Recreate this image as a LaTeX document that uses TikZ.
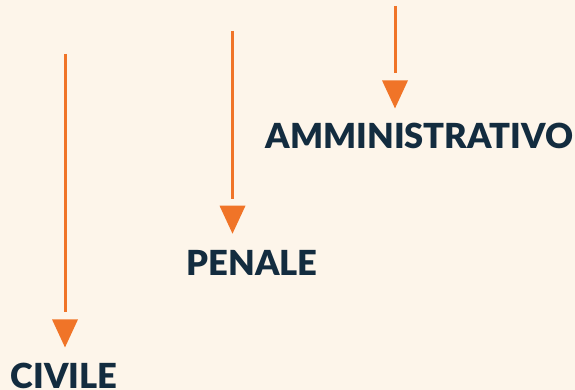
\documentclass[tikz,border=0pt]{standalone}
\usepackage{fontspec}
\setmainfont{Lato}[BoldFont={Lato Black}]
\definecolor{cream}{HTML}{FDF5EA}
\definecolor{tangerine}{HTML}{F07428}
\definecolor{navy}{HTML}{132C3F}
\begin{document}
\begin{tikzpicture}[x=1pt, y=-1pt,
        every node/.style={font=\fontsize{34.5}{35}\selectfont\bfseries},
        branch/.style={text=navy, inner sep=0pt, anchor=base},
        stem/.style={draw=tangerine, line width=3pt, shorten >=35pt},
        head/.style={fill=tangerine}
    ]
%
    \fill[cream] (0,0) rectangle (575,390);
    \useasboundingbox (0,0) rectangle (575,390);
%
    \node[branch] (amm) at (419.5,149) {AMMINISTRATIVO};
    \node[branch] (pen) at (252,275) {PENALE};
    \node[branch] (civ) at (64,388) {CIVILE};
%
    \coordinate (ammtop) at (395,6);
    \coordinate (pentop) at (232.5,31);
    \coordinate (civtop) at (65,54);
    \coordinate (ammend) at ([yshift=15pt]ammtop |- amm.north);
    \coordinate (penend) at ([yshift=16pt]pentop |- pen.north);
    \coordinate (civend) at ([yshift=15pt]civtop |- civ.north);
%
    \draw[stem] (ammtop) -- (ammend);
    \draw[stem] (pentop) -- (penend);
    \draw[stem] (civtop) -- (civend);
    \fill[head] (ammend) -- ++(-13,-28) -- ++(26,0) -- cycle;
    \fill[head] (penend) -- ++(-13,-28) -- ++(26,0) -- cycle;
    \fill[head] (civend) -- ++(-13,-28) -- ++(26,0) -- cycle;
%
\end{tikzpicture}
\end{document}
